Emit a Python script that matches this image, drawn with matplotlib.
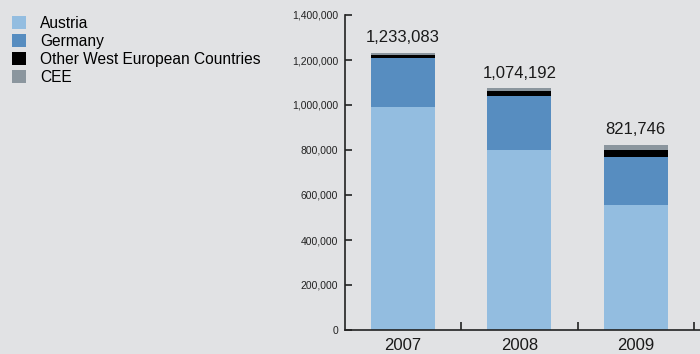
import matplotlib.pyplot as plt
import numpy as np

years = ['2007', '2008', '2009']
austria = [990000, 800000, 556000]
germany = [218000, 240000, 213000]
other_west = [14000, 22000, 31000]
cee = [11083, 12192, 21746]
totals = [1233083, 1074192, 821746]

series = [
    ('Austria', austria, '#93bde0'),
    ('Germany', germany, '#578dc0'),
    ('Other West European Countries', other_west, '#000000'),
    ('CEE', cee, '#8b969e'),
]

bg = '#e1e2e4'
plt.rcParams['font.family'] = ['Liberation Sans', 'DejaVu Sans']

fig = plt.figure(figsize=(7.0, 3.54), dpi=100, facecolor=bg)
ax = fig.add_axes([345 / 700, 24 / 354, 355 / 700, 315 / 354], facecolor=bg)

x = np.arange(len(years))
bottom = np.zeros(len(years))
handles = []
for name, vals, col in series:
    b = ax.bar(x, vals, width=0.55, bottom=bottom, color=col, label=name, linewidth=0)
    handles.append(b)
    bottom += np.array(vals)

# totals above each stack
for xi, t in zip(x, totals):
    ax.annotate(f'{t:,}', (xi, t), xytext=(0, 5.5), textcoords='offset points',
                ha='center', va='bottom', fontsize=12, color='#1a1a1a')

ax.set_xlim(-0.5, 2.553)
ax.set_ylim(0, 1400000)
ax.set_yticks(np.arange(0, 1400001, 200000))
ax.set_yticklabels([f'{v:,}' for v in range(0, 1400001, 200000)], fontsize=7.5)
ax.tick_params(axis='y', direction='in', length=5, width=1.2, pad=5, colors='#222222')

ax.set_xticks(x)
ax.set_xticklabels(years, fontsize=12, color='#1a1a1a')
ax.tick_params(axis='x', which='major', length=0, pad=6)
ax.set_xticks([0.5, 1.5, 2.5], minor=True)
ax.tick_params(axis='x', which='minor', direction='in', length=6, width=1.2, color='#222222')

for s in ['top', 'right']:
    ax.spines[s].set_visible(False)
for s in ['left', 'bottom']:
    ax.spines[s].set_color('#222222')
    ax.spines[s].set_linewidth(1.2)

fig.legend(handles=handles, loc='upper left', bbox_to_anchor=(0.008, 0.972),
           frameon=False, fontsize=11.2, handlelength=0.9, handleheight=0.9,
           handletextpad=0.9, labelspacing=0.18, borderaxespad=0)

fig.savefig('out.png', dpi=100, facecolor=bg)
